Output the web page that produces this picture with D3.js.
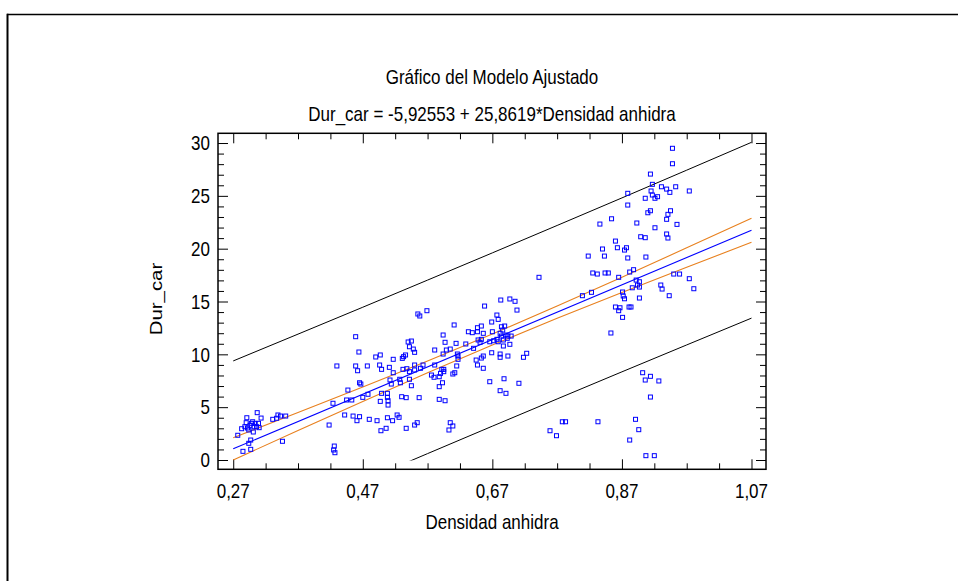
<!DOCTYPE html>
<html>
<head>
<meta charset="utf-8">
<script src="https://cdn.jsdelivr.net/npm/d3@7"></script>
<style>
  body { margin: 0; background: #fff; }
  svg { display: block; }
  text { font-family: "Liberation Sans", Arial, sans-serif; font-size: 17px; fill: #000; }
</style>
</head>
<body>
<svg id="chart" width="958" height="581"></svg>
<script>
// Observed wood samples: anhydrous density vs. Dur_car
const densidad = [
  0.277,0.283,0.285,0.288,0.290,0.291,0.292,0.294,0.294,0.297,0.297,0.296,0.298,0.301,0.300,0.302,0.304,0.306,0.307,0.309,0.310,0.313,0.331,0.337,0.339,0.343,0.351,0.346,
  0.459,0.464,0.430,0.459,0.462,0.477,0.490,0.497,0.496,0.499,0.511,0.517,0.531,0.533,0.540,0.542,0.538,0.532,0.517,0.512,0.527,0.514,0.528,0.465,0.467,0.447,0.445,0.453,0.470,0.478,0.424,0.499,0.508,0.508,0.509,0.497,0.509,0.530,0.537,
  0.442,0.455,0.465,0.461,0.480,0.492,0.506,0.498,0.508,0.516,0.523,0.526,0.537,0.418,0.426,0.425,0.427,
  0.555,0.558,0.569,0.545,0.548,0.550,0.536,0.550,0.563,0.559,0.542,0.550,0.542,0.545,0.557,0.550,0.554,
  0.581,0.594,0.597,0.594,0.599,0.605,0.611,0.614,0.616,0.617,0.617,0.615,0.629,0.633,0.639,0.647,0.653,0.647,0.656,0.648,0.651,0.653,0.641,
  0.658,0.669,0.677,0.679,0.683,0.697,0.705,0.708,0.670,0.684,0.689,0.686,0.682,0.684,0.691,0.694,0.699,0.693,0.666,0.672,0.677,0.679,0.687,0.687,0.697,0.669,0.656,0.653,0.645,0.647,0.656,0.682,0.682,0.694,0.718,0.723,
  0.666,0.688,0.711,0.682,0.691,0.581,0.592,0.595,0.595,0.590,0.588,0.580,0.576,0.609,0.612,0.588,0.593,0.588,0.597,0.605,0.609,0.603,
  0.759,0.769,0.778,0.783,
  0.948,0.948,0.914,0.917,0.915,0.917,0.931,0.939,0.944,0.953,0.974,0.879,0.906,0.921,0.925,0.879,0.910,0.914,0.945,0.941,0.939,0.854,0.836,0.893,0.955,0.921,0.939,0.941,0.899,0.906,
  0.860,0.840,0.863,0.874,0.877,0.818,0.843,0.879,0.907,0.825,0.832,0.844,0.849,0.888,0.882,0.865,0.950,0.959,0.974,0.981,0.892,0.897,0.894,0.897,0.886,0.930,0.932,0.823,0.809,0.871,0.872,0.874,0.897,0.943,
  0.860,0.867,0.865,0.881,0.884,0.871,0.853,0.742,
  0.902,0.906,0.914,0.927,0.914,0.833,0.891,0.896,0.882,0.907,0.920
];
const durCar = [
  2.34,2.96,0.82,3.15,3.53,4.00,3.03,2.84,1.58,1.89,1.01,3.28,3.47,2.65,3.62,3.15,3.47,3.15,4.48,3.47,3.06,3.97,3.85,3.95,4.26,4.16,4.16,1.77,
  11.67,10.22,8.90,8.90,8.45,8.90,9.75,9.94,8.99,8.58,8.77,9.53,9.62,9.78,11.17,10.72,8.64,8.58,8.26,7.57,7.64,7.19,7.31,7.31,7.19,6.62,5.68,5.68,5.93,6.22,5.37,6.31,6.31,5.93,5.61,5.55,5.20,5.99,5.90,
  4.26,4.16,4.10,3.72,3.85,3.72,3.00,2.77,4.00,3.72,4.26,4.04,3.00,3.31,1.32,0.95,0.69,
  13.82,13.63,14.13,11.26,10.50,10.19,9.94,8.99,8.99,8.68,8.36,8.52,7.64,7.03,5.90,3.31,3.53,
  10.41,11.83,11.14,10.03,10.41,10.50,12.78,11.04,10.03,9.84,9.53,8.90,10.98,12.14,12.05,12.52,12.68,12.14,11.99,11.36,11.14,11.42,10.57,
  14.57,13.06,13.72,13.31,15.14,15.24,15.02,14.19,12.14,12.61,12.68,12.30,11.99,11.73,11.83,11.73,11.73,11.52,11.19,11.29,11.42,11.19,11.36,10.79,10.95,10.15,9.84,9.65,9.46,8.99,8.68,10.03,9.72,9.84,9.72,10.10,
  7.41,7.69,7.26,6.56,6.31,8.99,8.58,8.58,8.36,8.20,7.88,7.83,8.04,8.14,8.26,6.94,7.31,5.74,5.61,3.53,3.22,2.84,
  2.77,2.30,3.62,3.62,
  29.50,28.04,27.06,26.09,25.46,25.08,25.86,25.64,25.33,25.86,25.46,25.24,24.77,24.77,24.92,24.13,23.40,23.59,23.59,23.25,22.78,22.83,22.33,22.43,22.30,21.98,21.39,21.01,21.13,21.04,
  20.72,19.97,20.09,19.87,20.09,19.30,19.30,19.12,19.21,17.70,17.60,17.70,17.70,18.01,17.79,17.29,17.60,17.60,17.16,16.21,17.03,16.87,16.56,16.37,16.30,16.56,16.18,15.87,15.55,15.90,15.52,15.26,15.33,15.55,
  14.48,14.41,14.13,14.48,14.48,13.50,12.02,17.29,
  8.26,7.57,7.92,7.48,5.96,3.62,3.85,2.87,1.89,0.41,0.41
];

// Fitted model: Dur_car = -5,92553 + 25,8619*Densidad anhidra
const intercept = -5.92553;
const slope = 25.8619;

// Half-widths of the confidence (mean) and prediction bands along x
const bandX    = [0.27, 0.37, 0.47, 0.57, 0.67, 0.77, 0.87, 0.97, 1.07];
const confHalf = [1.05, 0.86, 0.69, 0.56, 0.52, 0.58, 0.72, 0.92, 1.14];
const predHalf = [8.32, 8.27, 8.23, 8.21, 8.20, 8.21, 8.23, 8.27, 8.32];

const xTickValues = [0.27, 0.47, 0.67, 0.87, 1.07];
const xMinorValues = [0.32, 0.37, 0.42, 0.52, 0.57, 0.62, 0.72, 0.77, 0.82, 0.92, 0.97, 1.02];
const yTickValues = [0, 5, 10, 15, 20, 25, 30];

const titleText = "Gráfico del Modelo Ajustado";
const subtitleText = "Dur_car = -5,92553 + 25,8619*Densidad anhidra";
const xLabel = "Densidad anhidra";
const yLabel = "Dur_car";

const svg = d3.select("#chart");
const W = 958, H = 581;
const plot = { left: 218, right: 766, top: 133.3, bottom: 469.3 };
const STRETCH = 1.2;   // lettering is drawn tall and narrow

const x = d3.scaleLinear().domain([0.2465, 1.0924]).range([plot.left, plot.right]);
const y = d3.scaleLinear().domain([-0.88, 30.92]).range([plot.bottom, plot.top]);

const fmtX = d => d3.format(".2f")(d).replace(".", ",");

function label(px, py, str, anchor) {
  return svg.append("text")
    .attr("transform", `translate(${px},${py}) scale(1,${STRETCH})`)
    .attr("text-anchor", anchor)
    .text(str);
}

// outer frame (left and top edges)
svg.append("line").attr("x1", 7).attr("x2", W).attr("y1", 14.5).attr("y2", 14.5)
  .attr("stroke", "#000").attr("stroke-width", 1.6);
svg.append("line").attr("x1", 7.5).attr("x2", 7.5).attr("y1", 13.7).attr("y2", H)
  .attr("stroke", "#000").attr("stroke-width", 2);

// titles
const cx = (plot.left + plot.right) / 2;
label(cx, 84, titleText, "middle");
label(cx, 121, subtitleText, "middle");

// axis titles
label(cx, 529, xLabel, "middle");
svg.append("text")
  .attr("transform", `translate(162,299) rotate(-90) scale(${STRETCH},1)`)
  .attr("text-anchor", "middle").text(yLabel);

// axes: ticks drawn inward on all four sides
function styleAxis(g) {
  g.select(".domain").remove();
  g.selectAll(".tick line").attr("stroke", "#000").attr("stroke-width", 1);
  g.selectAll(".tick text").remove();
}

const yMinor = d3.range(0, 31).filter(v => v % 5 !== 0);
const axes = [
  [d3.axisBottom(x).tickValues(xTickValues).tickSize(-10), 0, plot.bottom],
  [d3.axisBottom(x).tickValues(xMinorValues).tickSize(-6), 0, plot.bottom],
  [d3.axisTop(x).tickValues(xTickValues).tickSize(-10), 0, plot.top],
  [d3.axisTop(x).tickValues(xMinorValues).tickSize(-6), 0, plot.top],
  [d3.axisLeft(y).tickValues(yTickValues).tickSize(-10), plot.left, 0],
  [d3.axisLeft(y).tickValues(yMinor).tickSize(-6), plot.left, 0],
  [d3.axisRight(y).tickValues(yTickValues).tickSize(-10), plot.right, 0],
  [d3.axisRight(y).tickValues(yMinor).tickSize(-6), plot.right, 0]
];
axes.forEach(([ax, tx, ty]) => {
  svg.append("g").attr("transform", `translate(${tx},${ty})`).call(ax).call(styleAxis);
});

// tick labels
xTickValues.forEach(v => label(x(v), 498, fmtX(v), "middle"));
yTickValues.forEach(v => label(plot.left - 8, y(v) + 7.3, String(v), "end"));

// plot frame
svg.append("rect").attr("x", plot.left).attr("y", plot.top)
  .attr("width", plot.right - plot.left).attr("height", plot.bottom - plot.top)
  .attr("fill", "none").attr("stroke", "#000").attr("stroke-width", 1.5);

// band lines are cut off at Dur_car = 0
svg.append("defs").append("clipPath").attr("id", "above-zero")
  .append("rect").attr("x", plot.left).attr("y", plot.top)
  .attr("width", plot.right - plot.left).attr("height", y(0) + 0.6 - plot.top);

const fit = v => intercept + slope * v;
const line = d3.line().x(d => x(d[0])).y(d => y(d[1]));
const bandLine = (halves, sign) => bandX.map((v, i) => [v, fit(v) + sign * halves[i]]);

const lines = svg.append("g").attr("fill", "none").attr("clip-path", "url(#above-zero)");
lines.append("path").attr("d", line(bandLine(predHalf, 1))).attr("stroke", "#000").attr("stroke-width", 1);
lines.append("path").attr("d", line(bandLine(predHalf, -1))).attr("stroke", "#000").attr("stroke-width", 1);
lines.append("path").attr("d", line(bandLine(confHalf, 1))).attr("stroke", "#e8801e").attr("stroke-width", 1.1);
lines.append("path").attr("d", line(bandLine(confHalf, -1))).attr("stroke", "#e8801e").attr("stroke-width", 1.1);
lines.append("path").attr("d", line([[bandX[0], fit(bandX[0])], [bandX[bandX.length - 1], fit(bandX[bandX.length - 1])]]))
  .attr("stroke", "#0000ff").attr("stroke-width", 1.1);

// observations as open squares
const pts = densidad.map((d, i) => [d, durCar[i]]);
svg.append("g").selectAll("rect").data(pts).join("rect")
  .attr("x", d => x(d[0]) - 2).attr("y", d => y(d[1]) - 2)
  .attr("width", 4).attr("height", 4)
  .attr("fill", "none").attr("stroke", "#0000ff").attr("stroke-width", 1);
</script>
</body>
</html>
